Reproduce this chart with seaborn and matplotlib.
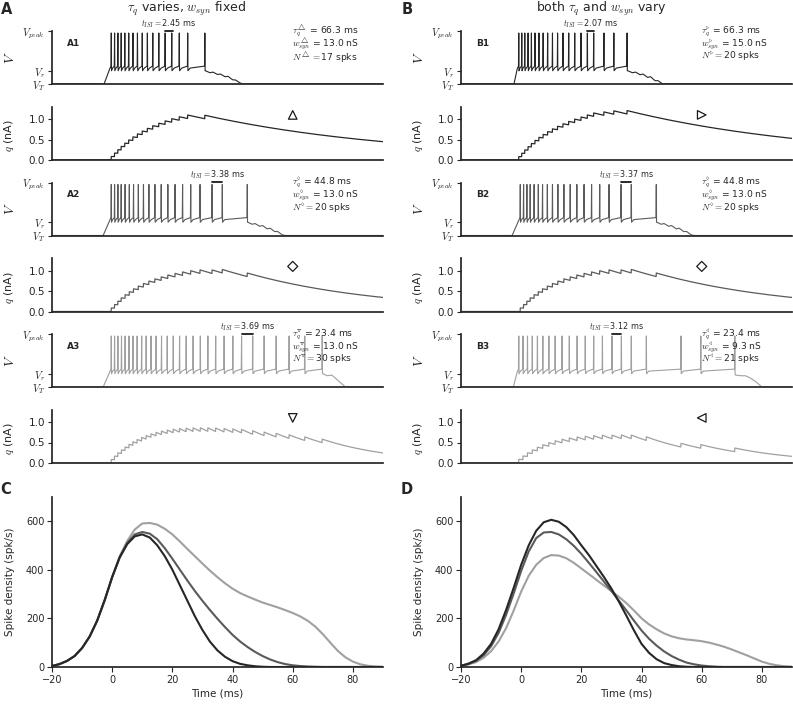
import numpy as np
import matplotlib
matplotlib.use('Agg')
import matplotlib.pyplot as plt
import seaborn as sns

sns.set_theme(style='ticks')
plt.rcParams['font.family'] = ['DejaVu Sans']
plt.rcParams['mathtext.fontset'] = 'cm'

# ---- data ----
# spike times (ms) for the six example neurons
spk_a1 = [-0.3, 0.8, 1.9, 3.0, 4.2, 5.5, 6.9, 8.4, 10.0, 11.7, 13.5, 15.5, 17.6, 19.8, 22.3, 25.1, 30.8]
spk_a2 = [-0.3, 0.8, 1.9, 3.0, 4.3, 5.7, 7.1, 8.7, 10.4, 12.2, 14.2, 16.3, 18.5, 20.9, 23.4, 26.1,
          29.2, 33.2, 36.6, 44.9]
spk_a3 = [-0.3, 0.8, 1.9, 3.1, 4.3, 5.6, 6.9, 8.3, 9.8, 11.3, 12.9, 14.6, 16.4, 18.3, 20.3, 22.4,
          24.6, 26.9, 29.3, 31.8, 34.4, 37.2, 40.1, 43.0, 46.7, 50.5, 54.5, 58.8, 64.0, 69.8]
spk_b1 = [-0.8, 0.2, 1.2, 2.3, 3.4, 4.6, 5.9, 7.3, 8.8, 10.4, 12.1, 13.9, 15.8, 17.8, 19.9, 22.0,
          24.1, 27.5, 30.8, 35.2]
spk_b2 = spk_a2
spk_b3 = [-0.8, 0.6, 2.1, 3.7, 5.4, 7.2, 9.2, 11.3, 13.6, 16.0, 18.6, 21.3, 24.1, 27.0, 30.2, 33.3,
          36.6, 41.6, 53.1, 59.7, 71.0]

# start of depolarisation (ms)
onsets = [-2.7, -3.0, -3.0, -2.4, -3.0, -2.6]

# subthreshold decay after the last spike (ms, normalised V)
tail_t_a1 = [31.0, 32.5, 33.5, 35.0, 36.0, 37.5, 38.5, 40.0, 41.0, 42.5, 43.5]
tail_v_a1 = [1.0, 0.85, 0.9, 0.72, 0.75, 0.55, 0.58, 0.32, 0.3, 0.08, 0.0]
tail_t_a2 = [45.1, 46.5, 47.5, 49.0, 50.0, 51.5, 52.5, 54.0, 55.0, 56.5, 57.5]
tail_v_a2 = [1.0, 0.85, 0.9, 0.7, 0.75, 0.5, 0.55, 0.3, 0.3, 0.05, 0.0]
tail_t_a3 = [70.0, 71.5, 73.0, 74.5, 76.0, 77.5]
tail_v_a3 = [1.0, 0.85, 0.9, 0.6, 0.3, 0.0]
tail_t_b1 = [35.4, 37.0, 38.0, 39.5, 40.5, 42.0, 43.0, 44.5, 45.5, 47.0]
tail_v_b1 = [1.0, 0.85, 0.9, 0.7, 0.75, 0.5, 0.55, 0.25, 0.25, 0.0]
tail_t_b3 = [71.2, 73.0, 74.5, 76.0, 78.0, 80.0]
tail_v_b3 = [0.9, 0.85, 0.85, 0.7, 0.4, 0.0]

tau_q = [66.3, 44.8, 23.4, 66.3, 44.8, 23.4]      # ms
w_syn = [13.0, 13.0, 13.0, 15.0, 13.0, 9.3]       # nS
n_spk = [17, 20, 30, 20, 20, 21]
t_isi = [2.45, 3.38, 3.69, 2.07, 3.37, 3.12]      # ms
isi_start = [17.6, 33.2, 43.0, 22.0, 33.2, 30.2]  # ms
q_jump = [0.085, 0.086, 0.086, 0.083, 0.086, 0.088]  # nA per spike, from step heights
sub_labels = ['A1', 'A2', 'A3', 'B1', 'B2', 'B3']
syms = [r'\triangle', r'\diamond', r'\triangledown', r'\triangleright', r'\diamond', r'\triangleleft']
marks = ['^', 'D', 'v', '>', 'D', '<']

# spike density curves (panels C, D), sampled every 2.5 ms from -20 to 90
tc = [-20, -17.5, -15, -12.5, -10, -7.5, -5, -2.5, 0, 2.5, 5, 7.5, 10, 12.5, 15, 17.5, 20, 22.5,
      25, 27.5, 30, 32.5, 35, 37.5, 40, 42.5, 45, 47.5, 50, 52.5, 55, 57.5, 60, 62.5, 65, 67.5,
      70, 72.5, 75, 77.5, 80, 82.5, 85, 87.5, 90]
dens_c_dark = [4, 12, 25, 45, 78, 125, 190, 275, 370, 450, 505, 537, 545, 532, 500, 455, 400, 336,
               272, 208, 152, 104, 68, 42, 24, 13, 7, 3, 1, 0, 0, 0, 0, 0, 0, 0,
               0, 0, 0, 0, 0, 0, 0, 0, 0]
dens_c_mid = [4, 12, 25, 45, 78, 125, 190, 275, 370, 452, 510, 545, 555, 548, 525, 488, 445, 400,
              355, 312, 272, 234, 198, 164, 132, 105, 82, 62, 45, 31, 20, 12, 7, 4, 2, 1,
              0, 0, 0, 0, 0, 0, 0, 0, 0]
dens_c_light = [4, 12, 25, 45, 78, 125, 190, 272, 367, 455, 518, 565, 590, 592, 585, 568, 545, 516,
                485, 455, 425, 396, 369, 344, 322, 304, 290, 277, 265, 255, 245, 234, 222, 208, 190, 166,
                135, 100, 66, 40, 22, 11, 5, 2, 1]
dens_d_dark = [5, 14, 28, 55, 95, 155, 235, 325, 420, 500, 560, 595, 605, 597, 575, 542, 500, 460,
               415, 370, 322, 268, 210, 150, 95, 58, 32, 16, 8, 3, 1, 0, 0, 0, 0, 0,
               0, 0, 0, 0, 0, 0, 0, 0, 0]
dens_d_mid = [5, 12, 25, 48, 85, 140, 215, 302, 395, 475, 530, 553, 555, 545, 525, 498, 465, 428,
              390, 351, 312, 272, 232, 190, 150, 116, 88, 64, 45, 30, 18, 11, 6, 3, 1, 0,
              0, 0, 0, 0, 0, 0, 0, 0, 0]
dens_d_light = [5, 11, 20, 38, 65, 105, 160, 232, 310, 375, 420, 448, 460, 458, 447, 428, 405, 382,
                358, 335, 312, 288, 262, 232, 200, 175, 155, 138, 126, 118, 113, 110, 106, 100, 92, 83,
                72, 60, 48, 35, 22, 13, 7, 3, 1]

V_R, V_PEAK, V_TOP = 1.0, 4.0, 3.85
c_dark, c_mid, c_light = '#262626', '#5a5a5a', '#a0a0a0'
colors = [c_dark, c_mid, c_light, c_dark, c_mid, c_light]

spikes = [spk_a1, spk_a2, spk_a3, spk_b1, spk_b2, spk_b3]
tails = [(tail_t_a1, tail_v_a1), (tail_t_a2, tail_v_a2), (tail_t_a3, tail_v_a3),
         (tail_t_b1, tail_v_b1), (tail_t_a2, tail_v_a2), (tail_t_b3, tail_v_b3)]


def v_trace(spk, onset, tail_t, tail_v):
    ts = [-20, onset, spk[0] - 0.5]
    vs = [0, 0, 1.15]
    for k, tk in enumerate(spk):
        ts += [tk - 0.1, tk, tk + 0.08]
        vs += [1.35, V_TOP, V_R]
        if k < len(spk) - 1:
            isi = spk[k + 1] - tk
            ts += [tk + min(0.8, 0.4 * isi)]
            vs += [1.2]
    ts += list(tail_t) + [90]
    vs += list(tail_v) + [0]
    return np.array(ts), np.array(vs)


def q_trace(spk, tau, dq):
    t = np.round(np.arange(-20, 90.001, 0.05), 3)
    q = np.zeros_like(t)
    for tk in spk:
        q += np.where(t >= tk, dq * np.exp(-(t - tk) / tau), 0)
    return t, q


W, H = 793, 708
fig = plt.figure(figsize=(W / 100, H / 100), dpi=100)


def rect(x0, x1, top, bot):
    return [x0 / W, 1 - bot / H, (x1 - x0) / W, (bot - top) / H]


cols = [(52, 383), (461, 792)]
v_rows = [(31, 84), (182.5, 235.5), (334, 387)]
q_rows = [(106.7, 160), (258.2, 311.5), (409.7, 463)]

for i in range(6):
    c = i // 3
    r = i % 3
    x0, x1 = cols[c]
    col = colors[i]

    # voltage panel
    ax = fig.add_axes(rect(x0, x1, *v_rows[r]))
    tv, vv = v_trace(spikes[i], onsets[i], *tails[i])
    sns.lineplot(x=tv, y=vv, ax=ax, color=col, lw=0.8, estimator=None, sort=False)
    ax.set_xlim(-20, 90)
    ax.set_ylim(0, V_PEAK)
    ax.set_xticks([])
    ax.set_yticks([0, V_R, V_PEAK])
    ax.set_yticklabels([r'$V_T$', r'$V_r$', r'$V_{peak}$'])
    ax.tick_params(axis='y', length=3, width=0.8, labelsize=7.5, pad=2)
    ax.set_ylabel(r'$V$', fontsize=10)
    ax.yaxis.set_label_coords(-0.105, 0.5)
    sns.despine(ax=ax)
    ax.text(0.045, 0.77, sub_labels[i], transform=ax.transAxes, fontsize=6.5,
            fontweight='bold', va='center')
    a = isi_start[i]
    ax.plot([a, a + t_isi[i]], [V_PEAK + 0.02] * 2, color='k', lw=1.3, clip_on=False)
    ax.text(a + t_isi[i] / 2, V_PEAK + 0.55, r'$t_{ISI} =$%.2f ms' % t_isi[i],
            fontsize=5.8, ha='center', va='center')
    s = syms[i]
    ax.text(0.725, 1.0, r'$\tau_q^{%s}$ = %.1f ms' % (s, tau_q[i]), transform=ax.transAxes,
            fontsize=6.6, va='center')
    ax.text(0.725, 0.76, r'$w_{syn}^{%s}$ = %.1f nS' % (s, w_syn[i]), transform=ax.transAxes,
            fontsize=6.6, va='center')
    ax.text(0.725, 0.51, r'$N^{%s} =$%d spks' % (s, n_spk[i]), transform=ax.transAxes,
            fontsize=6.6, va='center')

    # q panel
    axq = fig.add_axes(rect(x0, x1, *q_rows[r]))
    tq, qq = q_trace(spikes[i], tau_q[i], q_jump[i])
    sns.lineplot(x=tq, y=qq, ax=axq, color=col, lw=0.9, estimator=None, sort=False)
    sns.scatterplot(x=[60], y=[1.1], ax=axq, marker=marks[i], s=38 if marks[i] != 'D' else 26,
                    facecolor='none', edgecolor='k', linewidth=0.9)
    axq.set_xlim(-20, 90)
    axq.set_ylim(0, 1.3)
    axq.set_xticks([])
    axq.set_yticks([0, 0.5, 1.0])
    axq.tick_params(axis='y', length=3, width=0.8, labelsize=7.5, pad=2)
    axq.set_ylabel(r'$q$ (nA)', fontsize=8)
    axq.yaxis.set_label_coords(-0.108, 0.45)
    sns.despine(ax=axq)

# spike density panels
dens = [(dens_c_dark, dens_c_mid, dens_c_light), (dens_d_dark, dens_d_mid, dens_d_light)]
for c in range(2):
    x0, x1 = cols[c]
    ax = fig.add_axes(rect(x0, x1, 496.7, 667))
    for y, col in zip(dens[c][::-1], [c_light, c_mid, c_dark]):
        sns.lineplot(x=tc, y=y, ax=ax, color=col, lw=1.5, estimator=None, sort=False)
    ax.set_xlim(-20, 90)
    ax.set_ylim(0, 700)
    ax.set_xticks([-20, 0, 20, 40, 60, 80])
    ax.set_yticks([0, 200, 400, 600])
    ax.tick_params(length=3.5, width=0.8, labelsize=7, pad=2)
    ax.set_xlabel('Time (ms)', fontsize=7.5, labelpad=3)
    ax.set_ylabel('Spike density (spk/s)', fontsize=7.5)
    ax.yaxis.set_label_coords(-0.112, 0.5)
    sns.despine(ax=ax)

fig.text(187 / W, 1 - 9 / H, r'$\tau_q$ varies, $w_{syn}$ fixed', ha='center', va='center', fontsize=9)
fig.text(601 / W, 1 - 9 / H, r'both $\tau_q$ and $w_{syn}$ vary', ha='center', va='center', fontsize=9)
for lab, (x, y) in zip('ABCD', [(7, 10), (407, 10), (6, 489), (407, 489)]):
    fig.text(x / W, 1 - y / H, lab, ha='center', va='center', fontsize=10.5, fontweight='bold')

fig.savefig('out.png', dpi=100)
